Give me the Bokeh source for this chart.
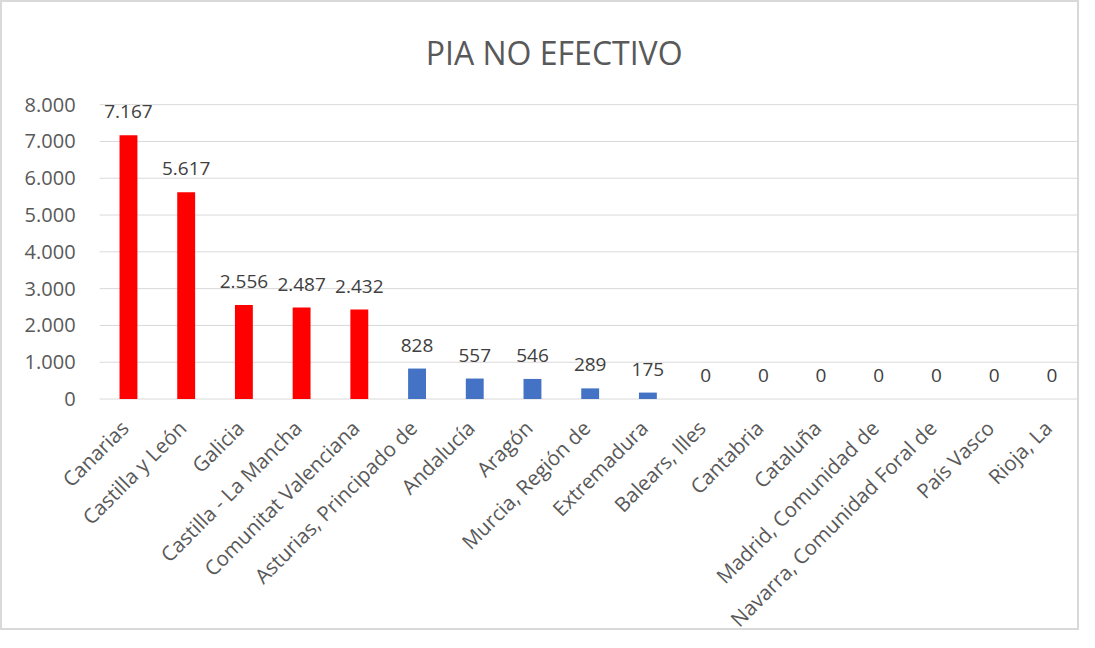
from math import pi
from bokeh.plotting import figure
from bokeh.models import Range1d, ColumnDataSource, LabelSet
from bokeh.core.properties import value
from bokeh.embed import file_html
from bokeh.resources import INLINE

title_text = "PIA NO EFECTIVO"
regions = ["Canarias", "Castilla y León", "Galicia", "Castilla - La Mancha",
           "Comunitat Valenciana", "Asturias, Principado de", "Andalucía", "Aragón",
           "Murcia, Región de", "Extremadura", "Balears, Illes", "Cantabria", "Cataluña",
           "Madrid, Comunidad de", "Navarra, Comunidad Foral de", "País Vasco", "Rioja, La"]
values = [7167, 5617, 2556, 2487, 2432, 828, 557, 546, 289, 175, 0, 0, 0, 0, 0, 0, 0]
colors = ["#FF0000"] * 5 + ["#4472C4"] * 12
y_ticks = [0, 1000, 2000, 3000, 4000, 5000, 6000, 7000, 8000]

def fmt(v):
    return f"{v:,}".replace(",", ".")

n = len(regions)
xs = list(range(n))
src = ColumnDataSource(dict(x=xs, name=regions, y=values, c=colors,
                            zero=[0] * n, lbl=[fmt(v) for v in values]))
tick_src = ColumnDataSource(dict(y=y_ticks, lbl=[fmt(t) for t in y_ticks],
                                 x0=[-0.5] * len(y_ticks), x1=[n - 0.5] * len(y_ticks)))

FONT = "Open Sans"
TXT = "#595959"

# layout geometry (pixels)
W, H = 1079, 630
CW, CH = W - 4, H - 4          # inside the 2px border
STEP = 57.5                    # pixels per category
X0_PX = 125.5                  # x of first category centre
Y0_PX = 394                    # y of value 0 (from top)
SPAN_PX = 292.5                # pixels from 0 to top tick
top = y_ticks[-1]

x_start = -X0_PX / STEP
x_end = x_start + CW / STEP
y_hi = top * Y0_PX / SPAN_PX
y_lo = -top * (CH - Y0_PX) / SPAN_PX

p = figure(width=W, height=H, x_range=Range1d(x_start, x_end),
           y_range=Range1d(y_lo, y_hi), output_backend="svg", toolbar_location=None,
           min_border=0, styles={"border": "2px solid #D9D9D9"})
p.outline_line_color = None
p.xaxis.visible = False
p.yaxis.visible = False
p.grid.visible = False

# grid lines
p.segment(x0="x0", x1="x1", y0="y", y1="y", source=tick_src,
          line_color="#D9D9D9", line_width=1)

# y tick labels
p.text(x="x0", y="y", text="lbl", source=tick_src, text_align="right",
       text_baseline="middle", x_offset=-24, text_font_size="20px",
       text_color=TXT, text_font=value(FONT))

# bars
p.vbar(x="x", top="y", width=0.31, fill_color="c", line_color=None, source=src)

# data labels
labels = LabelSet(x="x", y="y", text="lbl", source=src, text_align="center",
                  text_baseline="bottom", y_offset=17, text_font_size="19px",
                  text_color="#404040", text_font=value(FONT))
p.add_layout(labels)

# category labels, rotated
p.text(x="x", y="zero", text="name", source=src, text_align="right",
       text_baseline="middle", angle=pi / 4, x_offset=-4, y_offset=25,
       text_font_size="20.5px", text_color=TXT, text_font=value(FONT))

# title
p.text(x=[(n - 1) / 2], y=[y_hi], text=[title_text], text_align="center",
       text_baseline="middle", x_offset=-36, y_offset=50, text_font_size="32px",
       text_color=TXT, text_font=value(FONT))

open("out.html", "w").write(file_html(p, INLINE))
